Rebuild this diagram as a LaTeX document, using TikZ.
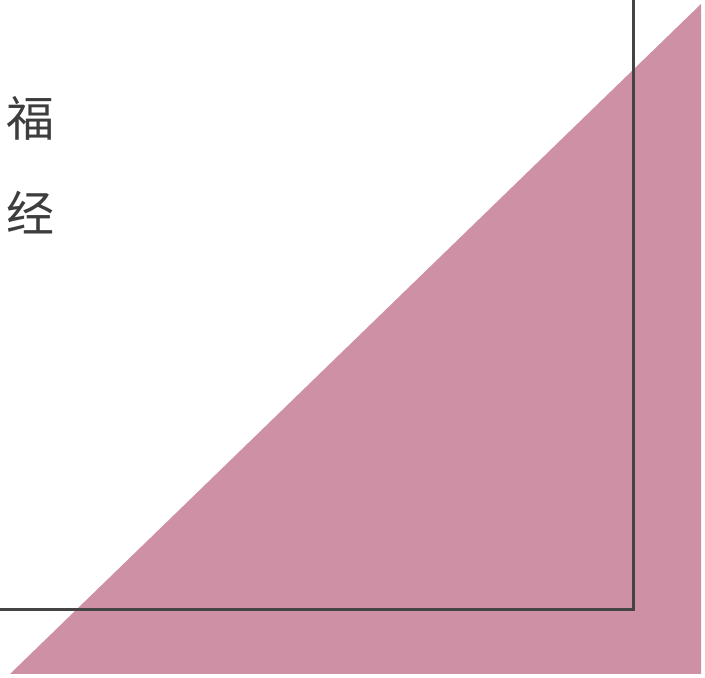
\documentclass[tikz,border=0pt]{standalone}
\usepackage{fontspec}
\newfontfamily\cjk{Noto Sans CJK SC}
\definecolor{rose}{HTML}{CE90A5}
\definecolor{frame}{HTML}{444444}
\tikzset{glyph/.style={inner sep=0pt, text=frame!90!black, font=\cjk\fontsize{48}{48}\selectfont, anchor=center}}
\begin{document}
\begin{tikzpicture}[x=1pt,y=1pt]
\useasboundingbox (0,0) rectangle (705,678);
\fill[white] (0,0) rectangle (705,678);
\fill[rose] (10,4) -- (701,674) -- (701,4) -- cycle;
\coordinate (ftop) at (633,678);
\coordinate (fcorner) at (633,68);
\coordinate (fleft) at (0,68);
\draw[frame, line width=3pt] (ftop) -- (fcorner) -- (fleft);
\node[glyph] (fu) at (30,560) {福};
\node[glyph] (jing) at (30,465) {经};
\end{tikzpicture}
\end{document}
